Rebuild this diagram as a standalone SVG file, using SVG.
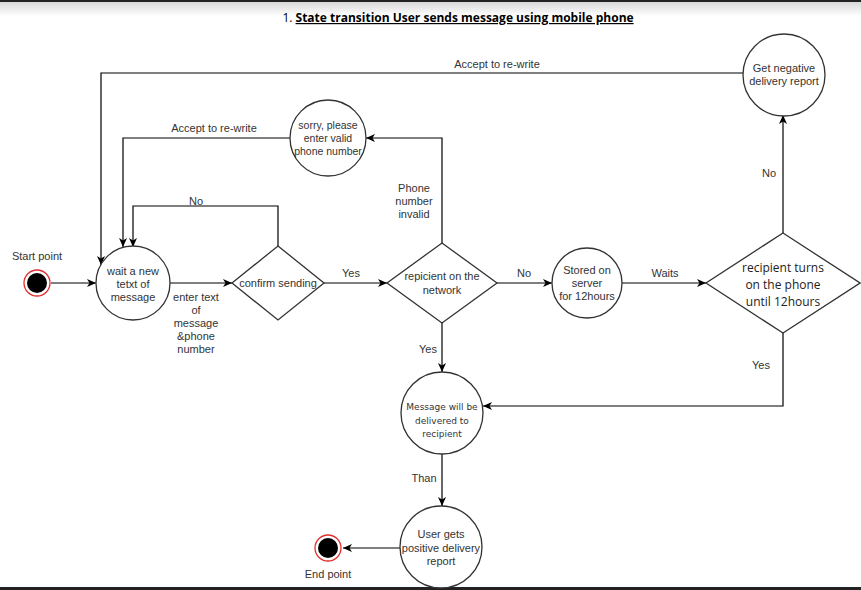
<svg xmlns="http://www.w3.org/2000/svg" width="861" height="590" viewBox="0 0 861 590">
<defs>
<linearGradient id="topg" x1="0" y1="0" x2="0" y2="1">
<stop offset="0" stop-color="#d8d8d8"/>
<stop offset="1" stop-color="#ffffff"/>
</linearGradient>
<marker id="arr" markerWidth="10" markerHeight="8" refX="9" refY="4" orient="auto" markerUnits="userSpaceOnUse">
<path d="M0,0 L9,4 L0,8 L2.5,4 Z" fill="#000"/>
</marker>
</defs>
<style>
.ln{fill:none;stroke:#000;stroke-width:1.2}
.nd{fill:#fff;stroke:#333;stroke-width:1.3}
.t{font-family:"Liberation Sans",Arial,sans-serif;font-size:11px;fill:#333;text-anchor:middle}
.t2{font-family:"Liberation Sans",Arial,sans-serif;font-size:10.5px;fill:#333;text-anchor:middle}
.ts{font-family:"DejaVu Sans",Tahoma,sans-serif;font-size:9px;fill:#333;text-anchor:middle}
.tc{font-family:"Open Sans","Liberation Sans",sans-serif;font-size:12px;fill:#222;text-anchor:middle}
.lb{font-family:"Liberation Sans",Arial,sans-serif;font-size:11px;fill:#333;text-anchor:middle}
</style>
<rect x="0" y="0" width="861" height="590" fill="#fff"/>
<rect x="0" y="2" width="861" height="14" fill="url(#topg)"/>
<rect x="0" y="0" width="861" height="2" fill="#222"/>
<rect x="0" y="587" width="861" height="3" fill="#222"/>

<g id="title">
<text x="458" y="22" font-family="'Open Sans','Liberation Sans',sans-serif" font-size="12" fill="#000" text-anchor="middle"><tspan>1. </tspan><tspan font-weight="bold" text-decoration="underline">State transition User sends message using mobile phone</tspan></text>
</g>

<g id="connectors">
<path class="ln" d="M51,283 H96" marker-end="url(#arr)"/>
<path class="ln" d="M170,283 H232" marker-end="url(#arr)"/>
<path class="ln" d="M324,283 H387" marker-end="url(#arr)"/>
<path class="ln" d="M497,283 H552" marker-end="url(#arr)"/>
<path class="ln" d="M622,283 H706" marker-end="url(#arr)"/>
<path class="ln" d="M278,246 V206 H133 V247" marker-end="url(#arr)"/>
<path class="ln" d="M290,138 H123 V247" marker-end="url(#arr)"/>
<path class="ln" d="M743,73 H101 V265" marker-end="url(#arr)"/>
<path class="ln" d="M442,243 V138 H366" marker-end="url(#arr)"/>
<path class="ln" d="M783,233 V115" marker-end="url(#arr)"/>
<path class="ln" d="M783,333 V406 H483" marker-end="url(#arr)"/>
<path class="ln" d="M442,323 V372" marker-end="url(#arr)"/>
<path class="ln" d="M442,454 V506" marker-end="url(#arr)"/>
<path class="ln" d="M400,548 H343" marker-end="url(#arr)"/>
<text class="lb" x="497" y="68">Accept to re-write</text>
<text class="lb" x="214" y="132">Accept to re-write</text>
<text class="lb" x="196" y="205">No</text>
<text class="lb"><tspan x="414" y="192">Phone</tspan><tspan x="414" y="205">number</tspan><tspan x="414" y="218">invalid</tspan></text>
<text class="lb"><tspan x="196" y="301">enter text</tspan><tspan x="196" y="314">of</tspan><tspan x="196" y="327">message</tspan><tspan x="196" y="340">&amp;phone</tspan><tspan x="196" y="353">number</tspan></text>
<text class="lb" x="351" y="277">Yes</text>
<text class="lb" x="524" y="277">No</text>
<text class="lb" x="665" y="277">Waits</text>
<text class="lb" x="769" y="177">No</text>
<text class="lb" x="761" y="369">Yes</text>
<text class="lb" x="428" y="353">Yes</text>
<text class="lb" x="424" y="482">Than</text>
</g>

<g id="start">
<circle cx="37" cy="283" r="13" fill="#fff" stroke="#e03030" stroke-width="1.3"/>
<circle cx="37" cy="283" r="10" fill="#000"/>
<text class="lb" x="37" y="260">Start point</text>
</g>

<g id="wait">
<circle class="nd" cx="133" cy="283" r="37"/>
<text class="t"><tspan x="133" y="275">wait a new</tspan><tspan x="133" y="288">tetxt of</tspan><tspan x="133" y="301">message</tspan></text>
</g>

<g id="confirm">
<polygon class="nd" points="278,246 324,283 278,320 232,283"/>
<text class="t" x="278" y="287">confirm sending</text>
</g>

<g id="network">
<polygon class="nd" points="442,243 497,283 442,323 387,283"/>
<text class="t"><tspan x="442" y="280">repicient on the</tspan><tspan x="442" y="294">network</tspan></text>
</g>

<g id="sorry">
<circle class="nd" cx="328" cy="138" r="38"/>
<text class="t2"><tspan x="328" y="129">sorry, please</tspan><tspan x="328" y="142">enter valid</tspan><tspan x="328" y="155">phone number</tspan></text>
</g>

<g id="stored">
<circle class="nd" cx="587" cy="283" r="35"/>
<text class="t"><tspan x="587" y="274">Stored on</tspan><tspan x="587" y="287">server</tspan><tspan x="587" y="300">for 12hours</tspan></text>
</g>

<g id="turns">
<polygon class="nd" points="783,233 860,283 783,333 706,283"/>
<text class="tc"><tspan x="783" y="272">recipient turns</tspan><tspan x="783" y="289">on the phone</tspan><tspan x="783" y="306">until 12hours</tspan></text>
</g>

<g id="negative">
<circle class="nd" cx="784" cy="75" r="41"/>
<text class="t"><tspan x="784" y="72">Get negative</tspan><tspan x="784" y="85">delivery report</tspan></text>
</g>

<g id="delivered">
<circle class="nd" cx="442" cy="413" r="41"/>
<text class="ts"><tspan x="442" y="410">Message will be</tspan><tspan x="442" y="424">delivered to</tspan><tspan x="442" y="437">recipient</tspan></text>
</g>

<g id="positive">
<circle class="nd" cx="441" cy="547" r="41"/>
<text class="t"><tspan x="441" y="538">User gets</tspan><tspan x="441" y="552">positive delivery</tspan><tspan x="441" y="565">report</tspan></text>
</g>

<g id="end">
<circle cx="328" cy="548" r="13" fill="#fff" stroke="#e03030" stroke-width="1.3"/>
<circle cx="328" cy="548" r="10" fill="#000"/>
<text class="lb" x="328" y="578">End point</text>
</g>
</svg>
